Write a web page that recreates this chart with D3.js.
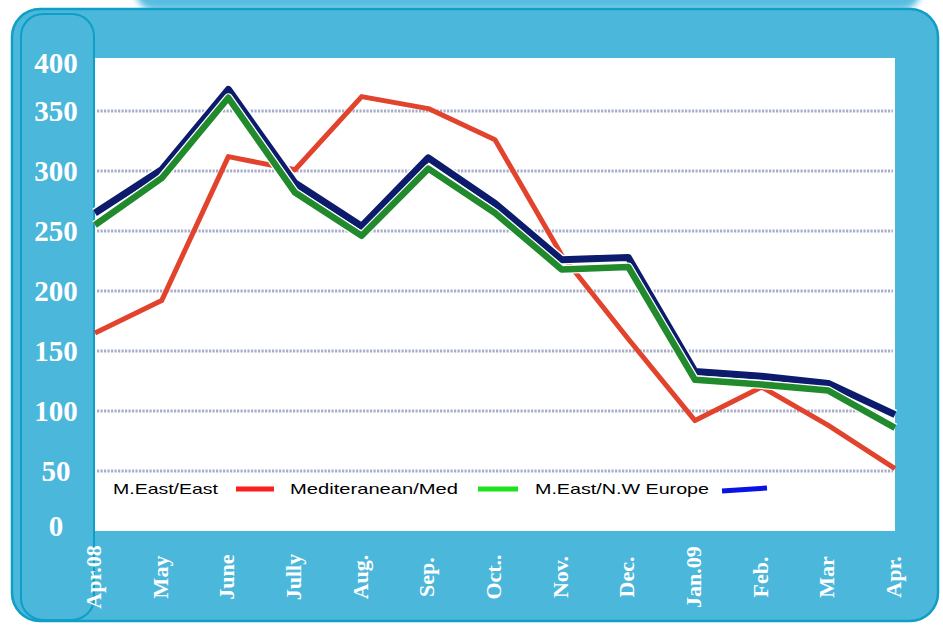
<!DOCTYPE html>
<html>
<head>
<meta charset="utf-8">
<script src="https://cdn.jsdelivr.net/npm/d3@7"></script>
<style>
  html, body { margin: 0; padding: 0; background: #ffffff; }
  svg { display: block; }
</style>
</head>
<body>
<svg id="chart" width="943" height="625"></svg>
<script>
'use strict';

/* -- Data -------------------------------------------------------------- */
const months = ['Apr.08', 'May', 'June', 'Jully', 'Aug.', 'Sep.', 'Oct..',
                'Nov.', 'Dec.', 'Jan.09', 'Feb.', 'Mar', 'Apr.'];
const eastEast = [165, 192, 312, 301, 362, 352, 326, 230, 160, 92, 120, 88, 52];
const medMed = [255, 294, 361, 282, 246, 302, 265, 218, 220, 126, 122, 117, 86];
const eastNWEurope = [265, 301, 368, 290, 254, 311, 273, 226, 228, 133, 129, 123, 97];
const yTicks = [0, 50, 100, 150, 200, 250, 300, 350, 400];
const gridTicks = [50, 100, 150, 200, 250, 300, 350];
const legendNames = ['M.East/East', 'Mediteranean/Med', 'M.East/N.W Europe'];

const panelFill = '#4bb7db';
const panelEdge = '#0e9ec6';

const svg = d3.select('#chart');

/* -- Background panel -------------------------------------------------- */
const defs = svg.append('defs');
defs.append('filter').attr('id', 'blur')
    .attr('x', '-10%').attr('y', '-50%').attr('width', '120%').attr('height', '200%')
    .append('feGaussianBlur').attr('stdDeviation', 3);

svg.append('rect')
    .attr('x', 135).attr('y', -30).attr('width', 786).attr('height', 40)
    .attr('rx', 20)
    .attr('fill', '#58bde0')
    .attr('filter', 'url(#blur)');

svg.append('rect')
    .attr('x', 12).attr('y', 9).attr('width', 926).attr('height', 612)
    .attr('rx', 28)
    .attr('fill', panelFill)
    .attr('stroke', panelEdge).attr('stroke-width', 2.5);

svg.append('rect')
    .attr('x', 21).attr('y', 14).attr('width', 73).attr('height', 606)
    .attr('rx', 22)
    .attr('fill', 'none')
    .attr('stroke', panelEdge).attr('stroke-width', 2);

/* -- Plot area ---------------------------------------------------------- */
const plot = { left: 95, right: 895, top: 58, bottom: 531 };

svg.append('rect')
    .attr('x', plot.left).attr('y', plot.top)
    .attr('width', plot.right - plot.left).attr('height', plot.bottom - plot.top)
    .attr('fill', '#ffffff');

const xScale = d3.scalePoint().domain(months).range([plot.left, plot.right]);
const yScale = d3.scaleLinear().domain([0, 400]).range([531, 51]);

/* -- Dotted grid lines -------------------------------------------------- */
svg.append('g').attr('class', 'grid')
    .selectAll('line')
    .data(gridTicks)
    .enter()
    .append('line')
    .attr('x1', plot.left + 2).attr('x2', plot.right - 2)
    .attr('y1', d => yScale(d)).attr('y2', d => yScale(d))
    .attr('stroke', '#a7adcb')
    .attr('stroke-width', 3)
    .attr('stroke-dasharray', '2.2,1.3');

/* -- Y axis labels ------------------------------------------------------ */
const yAxis = d3.axisLeft(yScale).tickValues(yTicks).tickSize(0).tickPadding(0);
const yAxisElement = svg.append('g')
    .attr('class', 'y axis')
    .attr('transform', 'translate(56,0)')
    .call(yAxis);
yAxisElement.select('.domain').remove();
yAxisElement.selectAll('.tick')
    .attr('transform', d => 'translate(0,' + Math.min(526, Math.max(63, yScale(d))) + ')');
yAxisElement.selectAll('text')
    .attr('x', 0).attr('dy', null)
    .attr('text-anchor', 'middle')
    .attr('dominant-baseline', 'central')
    .attr('fill', '#ffffff')
    .style('font-family', '"Liberation Serif", "DejaVu Serif", serif')
    .style('font-weight', 'bold')
    .style('font-size', '29px');

/* -- X axis labels (rotated) ------------------------------------------- */
const xAxis = d3.axisBottom(xScale).tickSize(0).tickPadding(0);
const xAxisElement = svg.append('g')
    .attr('class', 'x axis')
    .attr('transform', 'translate(0,577)')
    .call(xAxis);
xAxisElement.select('.domain').remove();
xAxisElement.selectAll('text')
    .attr('y', 0).attr('dy', null)
    .attr('transform', 'translate(-2,0) rotate(-90)')
    .attr('text-anchor', 'middle')
    .attr('dominant-baseline', 'central')
    .attr('fill', '#ffffff')
    .style('font-family', '"Liberation Serif", "DejaVu Serif", serif')
    .style('font-weight', 'bold')
    .style('font-size', '22px');

/* -- Lines -------------------------------------------------------------- */
const line = d3.line()
    .x((d, i) => xScale(months[i]))
    .y(d => yScale(d));

const lines = svg.append('g').attr('class', 'lines')
    .attr('fill', 'none')
    .attr('stroke-linejoin', 'round')
    .attr('stroke-linecap', 'butt');

lines.append('path').datum(eastEast)
    .attr('d', line)
    .attr('stroke', '#e2432d').attr('stroke-width', 5);

lines.append('path').datum(eastNWEurope)
    .attr('d', line)
    .attr('stroke', '#ffffff').attr('stroke-width', 10);
lines.append('path').datum(eastNWEurope)
    .attr('d', line)
    .attr('stroke', '#0d1b6d').attr('stroke-width', 7);

lines.append('path').datum(medMed)
    .attr('d', line)
    .attr('stroke', '#ffffff').attr('stroke-width', 9);
lines.append('path').datum(medMed)
    .attr('d', line)
    .attr('stroke', '#218a2c').attr('stroke-width', 6.5);

/* -- Legend ------------------------------------------------------------- */
const legendItems = [
    { name: legendNames[0], tx: 113, tw: 105, x1: 236, x2: 274, y1: 489, y2: 489, color: '#ff1e1e' },
    { name: legendNames[1], tx: 290, tw: 168, x1: 478, x2: 518, y1: 489, y2: 489, color: '#1ee21e' },
    { name: legendNames[2], tx: 535, tw: 174, x1: 722, x2: 767, y1: 491, y2: 488, color: '#0a12e6' }
];

const legend = svg.append('g').attr('class', 'legend');
legend.selectAll('text')
    .data(legendItems)
    .enter()
    .append('text')
    .attr('x', d => d.tx).attr('y', 494)
    .attr('textLength', d => d.tw)
    .attr('lengthAdjust', 'spacingAndGlyphs')
    .attr('fill', '#000000')
    .style('font-family', '"Liberation Sans", Arial, sans-serif')
    .style('font-size', '15px')
    .text(d => d.name);

legend.selectAll('line')
    .data(legendItems)
    .enter()
    .append('line')
    .attr('x1', d => d.x1).attr('x2', d => d.x2)
    .attr('y1', d => d.y1).attr('y2', d => d.y2)
    .attr('stroke', d => d.color)
    .attr('stroke-width', 5);
</script>
</body>
</html>
